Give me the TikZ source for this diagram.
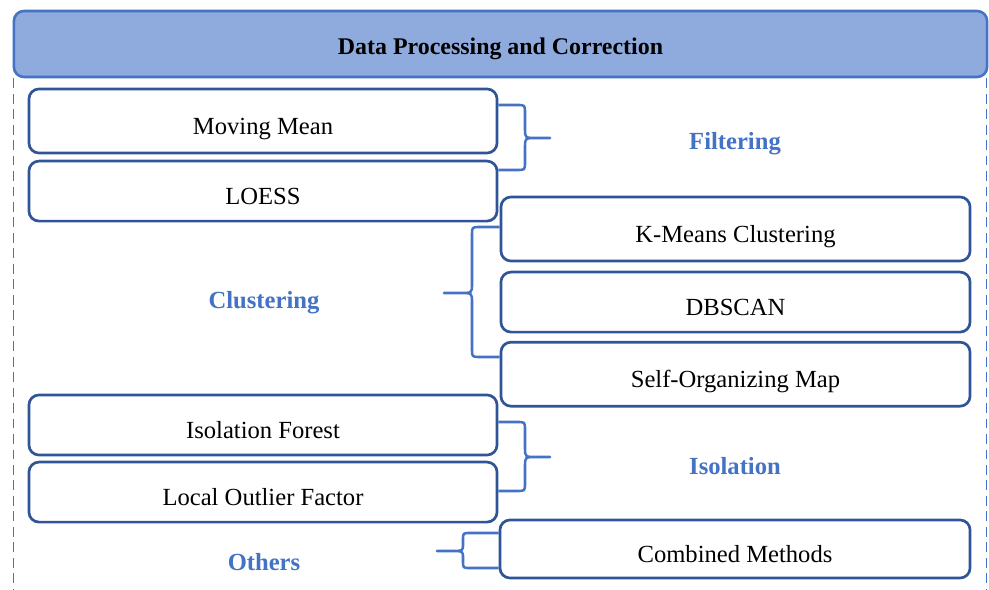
\documentclass[tikz,border=0pt]{standalone}
\usepackage{fontspec}
\setmainfont{Liberation Serif}
\usetikzlibrary{positioning}
\definecolor{headfill}{RGB}{143,170,220}
\definecolor{headblue}{RGB}{68,114,196}
\definecolor{boxblue}{RGB}{47,85,151}
\tikzstyle{mynode}=[align=center, rounded corners=0.25cm, font=\fontsize{17.5}{21}\selectfont]
\tikzstyle{header}=[mynode, draw=headblue, fill=headfill, line width=1.8pt, minimum width=24.325cm, minimum height=1.65cm, text height=15pt, text depth=0pt, font=\fontsize{17}{21}\selectfont\bfseries]
\tikzstyle{methodbox}=[mynode, draw=boxblue, fill=white, line width=1.9pt, minimum width=11.7cm, minimum height=1.5cm, text height=18.5pt, text depth=0pt]
\tikzstyle{grouplabel}=[font=\fontsize{17.5}{21}\selectfont\bfseries, text=headblue]
\tikzstyle{curlybrace}=[headblue, line width=1.8pt, line join=round]
\tikzstyle{frame}=[headblue, dash pattern=on 7pt off 4pt, line width=1.2pt]

\begin{document}
\begin{tikzpicture}[x=0.025cm, y=-0.025cm]
\useasboundingbox (0,0) rectangle (989,590);

\node[header] (head) at (500.5,44) {Data Processing and Correction};
\coordinate (bottom) at (0,590);
\draw[frame] ([xshift=0.02cm]head.south west) -- ([xshift=0.02cm]head.south west |- bottom);
\draw[frame] ([xshift=-0.05cm]head.south east) -- ([xshift=-0.05cm]head.south east |- bottom);

% left column
\node[methodbox, minimum height=1.6cm] (mean) at (263,121) {Moving Mean};
\node[methodbox] (loess) [below=0.135cm of mean] {LOESS};
\node[methodbox] (iforest) at (263,425) {Isolation Forest};
\node[methodbox] (lof) [below=0.11cm of iforest] {Local Outlier Factor};

% right column
\node[methodbox, minimum width=11.725cm, minimum height=1.6cm] (kmeans) at (735.5,229) {K-Means Clustering};
\node[methodbox, minimum width=11.725cm] (dbscan) [below=0.21cm of kmeans] {DBSCAN};
\node[methodbox, minimum width=11.725cm, minimum height=1.6cm] (som) [below=0.185cm of dbscan] {Self-Organizing Map};
\node[methodbox, minimum width=11.75cm, minimum height=1.45cm] (combined) at (735,549) {Combined Methods};

% group labels
\node[grouplabel] (filtering) at (735,144) {Filtering};
\node[grouplabel] (clustering) at (264,303) {Clustering};
\node[grouplabel] (isolation) at (735,466) {Isolation};
\node[grouplabel] (others) at (264,562) {Others};

\coordinate (filter tip) at (550,138);
\coordinate (cluster tip) at (444,293);
\coordinate (isol tip) at (550,457);
\coordinate (other tip) at (437,551);

\begin{scope}[curlybrace]
    \draw (mean.east |- 0,105) -- (517,105) .. controls (525,105) .. (525,113) -- (525,129)
        .. controls (525,138) .. (537,138) -- (filter tip) -- (537,138)
        .. controls (525,138) .. (525,147) -- (525,162) .. controls (525,170) .. (517,170) -- (loess.east |- 0,170);

    \draw (kmeans.west |- 0,227) -- (480,227) .. controls (472,227) .. (472,235) -- (472,284)
        .. controls (472,293) .. (460,293) -- (cluster tip) -- (460,293)
        .. controls (472,293) .. (472,302) -- (472,349) .. controls (472,357) .. (480,357) -- (som.west |- 0,357);

    \draw (iforest.east |- 0,422) -- (517,422) .. controls (525,422) .. (525,430) -- (525,448)
        .. controls (525,457) .. (537,457) -- (isol tip) -- (537,457)
        .. controls (525,457) .. (525,466) -- (525,483) .. controls (525,491) .. (517,491) -- (lof.east |- 0,491);

    \draw (combined.west |- 0,533) -- (470,533) .. controls (463,533) .. (463,540) -- (463,544)
        .. controls (463,551) .. (452,551) -- (other tip) -- (452,551)
        .. controls (463,551) .. (463,558) -- (463,561) .. controls (463,568) .. (470,568) -- (combined.west |- 0,568);
\end{scope}

\end{tikzpicture}
\end{document}
